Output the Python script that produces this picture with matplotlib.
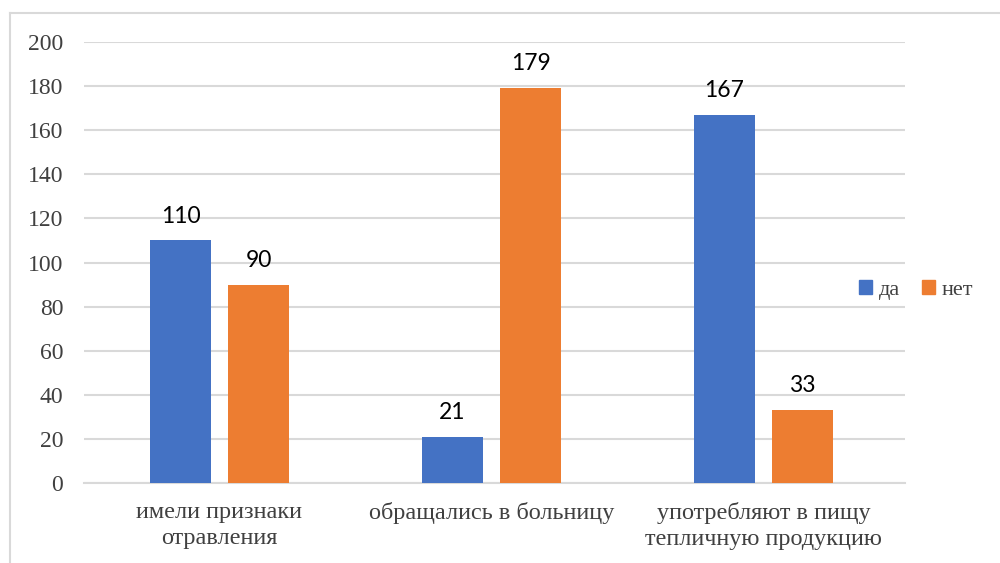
import matplotlib
matplotlib.use("Agg")
import matplotlib.pyplot as plt
import numpy as np
from matplotlib.lines import Line2D
from matplotlib.patches import Patch

# Данные
categories = ["имели признаки\nотравления", "обращались в больницу", "употребляют в пищу\nтепличную продукцию"]
series_names = ["да", "нет"]
yes_values = [110, 21, 167]
no_values = [90, 179, 33]
colors = ["#4472C4", "#ED7D31"]

serif = "Liberation Serif"
label_font = "Lato"

fig = plt.figure(figsize=(10, 5.63), dpi=100)
ax = fig.add_axes([0.084, 0.142, 0.821, 0.7834])

x = np.arange(len(categories))
bw = 0.224
off = 0.1434
b1 = ax.bar(x - off, yes_values, bw, color=colors[0], zorder=3)
b2 = ax.bar(x + off, no_values, bw, color=colors[1], zorder=3)

# подписи значений
for bars in (b1, b2):
    for b in bars:
        ax.annotate(str(int(b.get_height())), (b.get_x() + b.get_width() / 2, b.get_height()),
                    xytext=(0, 10), textcoords="offset points", ha="center", va="bottom",
                    fontsize=16.5, family=label_font, color="black")

ax.set_xlim(-0.498, 2.52)
ax.set_ylim(0, 200)
ax.set_yticks(range(0, 201, 20))
ax.yaxis.grid(True, color="#D9D9D9", linewidth=1.5, zorder=0)
ax.set_axisbelow(True)
for s in ["top", "right", "left"]:
    ax.spines[s].set_visible(False)
ax.spines["bottom"].set_color("#D9D9D9")
ax.spines["bottom"].set_linewidth(1.5)
ax.tick_params(axis="y", length=0, pad=15, labelsize=17, labelcolor="#404040")
ax.tick_params(axis="x", length=0, pad=14, labelsize=17.5, labelcolor="#404040")
ax.set_xticks(x)
ax.set_xticklabels(categories, linespacing=1.3)
for lbl in ax.get_xticklabels() + ax.get_yticklabels():
    lbl.set_family(serif)

handles = [Patch(color=c) for c in colors]
fig.legend(handles, series_names, loc="center", bbox_to_anchor=(0.916, 0.485), ncol=2,
           frameon=False, prop={"family": serif, "size": 16}, handlelength=0.6, handleheight=0.6,
           handletextpad=0.3, columnspacing=1.0, labelcolor="#404040")

# рамка диаграммы
fig.add_artist(Line2D([0.01, 0.01], [0, 1 - 13 / 563], color="#D9D9D9", linewidth=1.5, transform=fig.transFigure))
fig.add_artist(Line2D([0.01, 1], [1 - 13 / 563, 1 - 13 / 563], color="#D9D9D9", linewidth=1.5, transform=fig.transFigure))

fig.savefig("out.png", dpi=100)
